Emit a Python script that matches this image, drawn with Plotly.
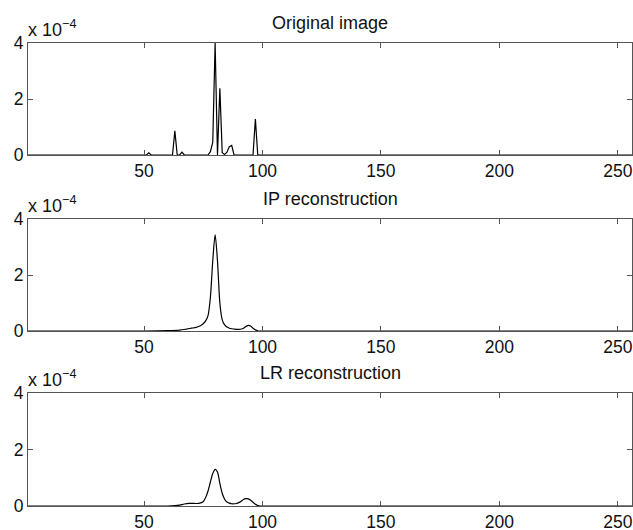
import plotly.graph_objects as go

# values in units of 1e-4
orig_x = [1, 51, 52, 53, 62, 63, 64, 65, 66, 67, 77, 78, 79, 80, 81, 82, 83, 84, 85, 86, 87, 88, 96, 97, 98, 256]
orig_y = [0, 0, 0.08, 0, 0, 0.86, 0, 0, 0.1, 0, 0, 0.12, 0.45, 4.0, 0, 2.38, 0.08, 0.02, 0.1, 0.3, 0.34, 0, 0, 1.28, 0, 0]

ip_x = [1, 50, 60, 65, 68, 70, 72, 73, 74, 75, 76, 77, 78, 79, 80, 81, 82, 83, 84, 85, 86, 87, 88, 89, 90, 91, 92, 93, 94, 95, 96, 97, 98, 99, 120, 256]
ip_y = [0, 0, 0.01, 0.03, 0.07, 0.1, 0.13, 0.16, 0.2, 0.26, 0.36, 0.55, 1.2, 2.5, 3.43, 2.5, 1.0, 0.4, 0.22, 0.14, 0.1, 0.08, 0.07, 0.06, 0.06, 0.07, 0.1, 0.16, 0.2, 0.18, 0.1, 0.04, 0.01, 0, 0, 0]

lr_x = [1, 50, 60, 63, 65, 67, 69, 71, 73, 74, 75, 76, 77, 78, 79, 80, 81, 82, 83, 84, 85, 86, 87, 88, 89, 90, 91, 92, 93, 94, 95, 96, 97, 98, 99, 120, 256]
lr_y = [0, 0, 0, 0.01, 0.03, 0.07, 0.09, 0.09, 0.09, 0.11, 0.16, 0.3, 0.53, 0.85, 1.15, 1.3, 1.2, 0.8, 0.45, 0.24, 0.14, 0.1, 0.08, 0.08, 0.09, 0.12, 0.17, 0.23, 0.26, 0.25, 0.2, 0.13, 0.06, 0.02, 0, 0, 0]

titles = ["Original image", "IP reconstruction", "LR reconstruction"]
x_ticks = [50, 100, 150, 200, 250]
y_ticks = [0, 2, 4]
exp_label = "x 10<sup>\u22124</sup>"

W, H = 633, 530
x_left, x_right = 28, 632
panels_px = [(43, 155), (219, 331), (393, 506)]

font = "Liberation Sans, Arial, Helvetica, sans-serif"
axcol = "#555555"

fig = go.Figure()
series = [(orig_x, orig_y, "linear"), (ip_x, ip_y, "spline"), (lr_x, lr_y, "spline")]
annotations = []
for i, ((xs, ys, shape), (top, bot)) in enumerate(zip(series, panels_px)):
    n = "" if i == 0 else str(i + 1)
    line = dict(color="black", width=1.2, shape=shape)
    if shape == "spline":
        line["smoothing"] = 0.8
    fig.add_trace(go.Scatter(x=xs, y=ys, mode="lines", line=line,
                             xaxis="x" + n, yaxis="y" + n, showlegend=False,
                             hoverinfo="skip"))
    dom_y = [1 - bot / H, 1 - top / H]
    common = dict(showline=True, mirror="ticks", linecolor=axcol, linewidth=1,
                  ticks="inside", ticklen=5, tickcolor=axcol, tickwidth=1,
                  showgrid=False, zeroline=False, automargin=False,
                  tickfont=dict(family=font, size=17.5, color="#111"))
    fig.layout["xaxis" + n] = dict(common, domain=[x_left / W, x_right / W], range=[1, 256],
                                   tickvals=x_ticks, anchor="y" + n)
    fig.layout["yaxis" + n] = dict(common, domain=dom_y, range=[0, 4],
                                   tickvals=y_ticks, anchor="x" + n)
    annotations.append(dict(text=titles[i], xref="paper", yref="paper",
                            x=(x_left + x_right) / 2 / W, y=1 - (top - 20) / H,
                            xanchor="center", yanchor="middle", showarrow=False,
                            font=dict(family=font, size=18, color="#111")))
    annotations.append(dict(text=exp_label, xref="paper", yref="paper",
                            x=(x_left - 2) / W, y=1 - (top - 1) / H,
                            xanchor="left", yanchor="bottom", showarrow=False,
                            font=dict(family=font, size=18, color="#111")))

fig.update_layout(width=W, height=H, margin=dict(l=0, r=0, t=0, b=0),
                  paper_bgcolor="white", plot_bgcolor="white",
                  annotations=annotations, hovermode=False)
fig.write_html("out.html", config={"displayModeBar": False},
               post_script="document.body.style.margin='0';document.body.style.overflow='hidden';")
